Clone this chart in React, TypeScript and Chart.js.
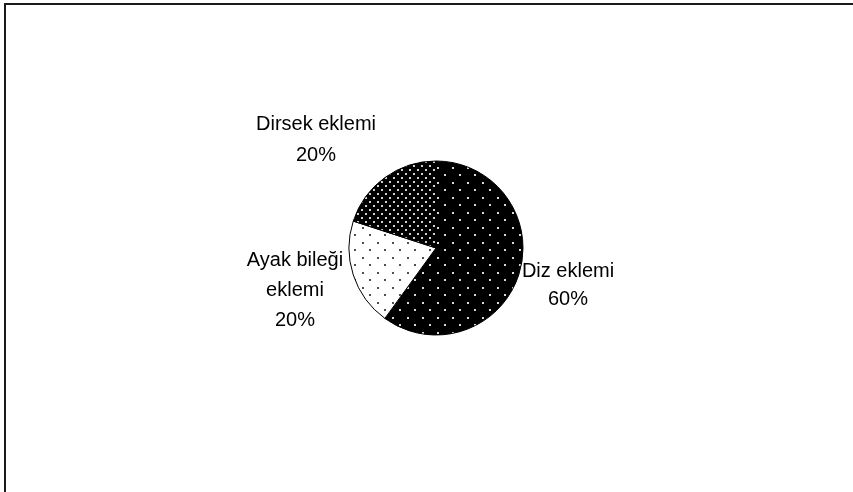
import React, { useEffect, useRef } from "react";
import { Chart, registerables } from "chart.js";

Chart.register(...registerables);

const categories = ["Diz eklemi", "Ayak bileği eklemi", "Dirsek eklemi"];
const values = [60, 20, 20];
const nameLines = [["Diz eklemi"], ["Ayak bileği", "eklemi"], ["Dirsek eklemi"]];

// label placement relative to pie centre (layout only)
const labelPlacement = [
  { dx: 132, dy: 29, lh: 28 },
  { dx: -141, dy: 18, lh: 30 },
  { dx: -120, dy: -118, lh: 31 },
];

function makePattern(bg: string, fg: string, tile: number, dots: number[][], size: number) {
  const c = document.createElement("canvas");
  c.width = tile;
  c.height = tile;
  const g = c.getContext("2d")!;
  g.fillStyle = bg;
  g.fillRect(0, 0, tile, tile);
  g.fillStyle = fg;
  dots.forEach(([x, y]) => g.fillRect(x, y, size, size));
  return g.createPattern(c, "repeat")!;
}

export default function App() {
  const ref = useRef<HTMLCanvasElement>(null);
  useEffect(() => {
    document.body.style.margin = "0";
    const canvas = ref.current!;
    const dizPat = makePattern("#000000", "#d8d8d8", 15, [[2, 2], [9, 9]], 2);
    const ayakPat = makePattern("#ffffff", "#505050", 15, [[2, 2], [9, 9]], 2);
    const dirsekPat = makePattern("#000000", "#d0d0d0", 8, [[1, 1], [5, 5]], 2);

    const framePlugin = {
      id: "frame",
      beforeDraw(chart: any) {
        const ctx = chart.ctx;
        ctx.save();
        ctx.fillStyle = "#ffffff";
        ctx.fillRect(0, 0, chart.width, chart.height);
        ctx.fillStyle = "#1a1a1a";
        ctx.fillRect(4, 3, chart.width - 4, 2);
        ctx.fillRect(4, 3, 2, chart.height - 3);
        ctx.restore();
      },
    };

    const labelPlugin = {
      id: "pieLabels",
      afterDatasetsDraw(chart: any) {
        const ctx = chart.ctx;
        const meta = chart.getDatasetMeta(0);
        const data = chart.data.datasets[0].data as number[];
        const total = data.reduce((a, b) => a + b, 0);
        ctx.save();
        ctx.fillStyle = "#000000";
        ctx.font = '20px "Liberation Sans", Arial, sans-serif';
        ctx.textAlign = "center";
        ctx.textBaseline = "alphabetic";
        meta.data.forEach((arc: any, i: number) => {
          const { x, y } = arc.getProps(["x", "y"], true);
          const p = labelPlacement[i];
          const lines = [...nameLines[i], Math.round((data[i] / total) * 100) + "%"];
          lines.forEach((t, j) => {
            ctx.fillText(t, x + p.dx, y + p.dy + j * p.lh);
          });
        });
        ctx.restore();
      },
    };

    const chart = new Chart(canvas, {
      type: "pie",
      data: {
        labels: categories,
        datasets: [
          {
            data: values,
            backgroundColor: [dizPat, ayakPat, dirsekPat] as any,
            borderColor: "#000000",
            borderWidth: 1,
            hoverOffset: 0,
          },
        ],
      },
      options: {
        animation: false,
        responsive: false,
        events: [],
        radius: 87,
        layout: { padding: { left: 336, right: 317, top: 148, bottom: 144 } },
        plugins: {
          legend: { display: false },
          tooltip: { enabled: false },
        },
      } as any,
      plugins: [framePlugin, labelPlugin],
    });
    return () => chart.destroy();
  }, []);
  return (
    <div style={{ width: 853, height: 492 }}>
      <canvas ref={ref} width={853} height={492} style={{ display: "block" }} />
    </div>
  );
}
